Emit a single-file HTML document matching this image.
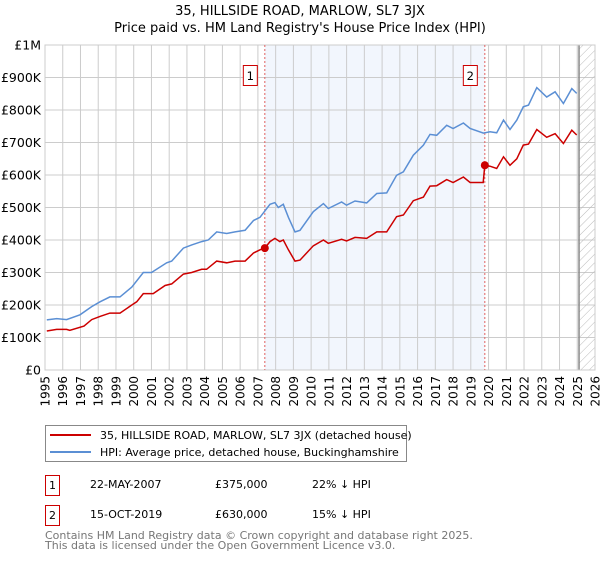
<!DOCTYPE html>
<html><head><meta charset="utf-8"><style>
body{margin:0;background:#fff;font-family:"DejaVu Sans","Liberation Sans",sans-serif;}
svg text{font-family:"DejaVu Sans","Liberation Sans",sans-serif;}
</style></head><body>
<svg id="chart" width="600" height="560" xmlns="http://www.w3.org/2000/svg">
<defs><pattern id="hatch" width="6" height="6" patternUnits="userSpaceOnUse" patternTransform="rotate(45)"><line x1="0" y1="0" x2="0" y2="6" stroke="#bbb" stroke-width="1"/></pattern></defs>
<text x="300" y="15" text-anchor="middle" font-size="13">35, HILLSIDE ROAD, MARLOW, SL7 3JX</text>
<text x="300" y="32" text-anchor="middle" font-size="13">Price paid vs. HM Land Registry's House Price Index (HPI)</text>
<g id="plot"></g>
<rect x="45.5" y="425.5" width="361" height="36" fill="#fff" stroke="#888"/>
<line x1="50" y1="435" x2="91" y2="435" stroke="#cc0000" stroke-width="2"/>
<text x="100" y="439" font-size="11">35, HILLSIDE ROAD, MARLOW, SL7 3JX (detached house)</text>
<line x1="50" y1="452" x2="91" y2="452" stroke="#5b8fd4" stroke-width="2"/>
<text x="100" y="456" font-size="11">HPI: Average price, detached house, Buckinghamshire</text>
<g font-size="11">
<rect x="45.5" y="475.5" width="14" height="20" fill="#fff" stroke="#cc0000"/><text x="52.5" y="489" text-anchor="middle">1</text>
<text x="90" y="488">22-MAY-2007</text><text x="215" y="488">£375,000</text><text x="312" y="488">22% ↓ HPI</text></g>
<g font-size="11">
<rect x="45.5" y="505.5" width="14" height="20" fill="#fff" stroke="#cc0000"/><text x="52.5" y="519" text-anchor="middle">2</text>
<text x="90" y="518">15-OCT-2019</text><text x="215" y="518">£630,000</text><text x="312" y="518">15% ↓ HPI</text></g>
<text x="45" y="539" font-size="11" fill="#777">Contains HM Land Registry data © Crown copyright and database right 2025.</text>
<text x="45" y="549" font-size="11" fill="#777">This data is licensed under the Open Government Licence v3.0.</text>
</svg>
<script>
const hpiYears=[1995.1,1995.66,1996.22,1996.97,1997.63,1998.1,1998.66,1999.23,1999.89,2000.54,2001.0,2001.86,2002.14,2002.8,2003.27,2003.83,2004.2,2004.68,2005.24,2005.71,2006.28,2006.75,2007.12,2007.68,2007.96,2008.15,2008.43,2008.72,2009.09,2009.37,2010.12,2010.69,2010.97,2011.72,2012.0,2012.47,2013.13,2013.7,2014.26,2014.82,2015.2,2015.76,2016.33,2016.7,2017.08,2017.64,2018.0,2018.58,2018.96,2019.71,2020.08,2020.46,2020.84,2021.21,2021.59,2021.96,2022.25,2022.72,2023.28,2023.75,2024.22,2024.69,2024.97];
const hpiValues=[154,158,155,170,195,210,225,225,255,300,300,330,335,375,385,395,400,425,420,425,430,460,470,510,515,500,510,470,425,430,487,512,497,517,507,520,514,543,545,599,610,661,692,725,722,753,743,760,743,729,733,730,769,740,769,810,815,869,840,856,820,866,851];
const redYears=[1995.1,1995.66,1996.22,1996.4,1997.2,1997.63,1998.1,1998.66,1999.23,1999.89,2000.17,2000.54,2001.1,2001.77,2002.14,2002.8,2003.27,2003.83,2004.11,2004.68,2005.24,2005.71,2006.28,2006.75,2007.12,2007.39,2007.68,2007.96,2008.24,2008.43,2008.72,2009.09,2009.37,2010.12,2010.69,2010.97,2011.72,2012.0,2012.47,2013.13,2013.7,2014.26,2014.82,2015.2,2015.76,2016.33,2016.7,2017.08,2017.64,2018.0,2018.58,2018.96,2019.7,2019.79,2020.08,2020.46,2020.84,2021.21,2021.59,2021.96,2022.25,2022.72,2023.28,2023.75,2024.22,2024.69,2024.97];
const redValues=[120,125,125,122,135,155,165,175,175,200,210,235,235,260,265,295,300,310,310,335,330,335,335,360,370,375,395,405,395,400,370,335,338,382,400,390,402,397,408,405,425,425,472,477,521,532,566,567,586,577,594,577,577,630,627,620,656,630,650,692,695,740,716,727,697,738,723];
const sales=[{n:"1",year:2007.39,value:375},{n:"2",year:2019.79,value:630}];
const yTicks=[0,100,200,300,400,500,600,700,800,900,1000];
const yTickLabels=["£0","£100K","£200K","£300K","£400K","£500K","£600K","£700K","£800K","£900K","£1M"];
const xTicks=[1995,1996,1997,1998,1999,2000,2001,2002,2003,2004,2005,2006,2007,2008,2009,2010,2011,2012,2013,2014,2015,2016,2017,2018,2019,2020,2021,2022,2023,2024,2025,2026];
const L=45,R=595,T=45,B=370,x0=1995,x1=2026,dataEnd=2025.1;
const X=v=>L+(v-x0)/(x1-x0)*(R-L);
const Y=v=>B-v/1000*(B-T);
const NS="http://www.w3.org/2000/svg";
const g=document.getElementById('plot');
function mk(t,a){const e=document.createElementNS(NS,t);for(const k in a)e.setAttribute(k,a[k]);g.appendChild(e);return e;}
let e=mk('rect',{x:X(sales[0].year),y:T,width:X(sales[1].year)-X(sales[0].year),height:B-T,fill:'#f0f4fd',opacity:'0.85'});


xTicks.forEach((t,i)=>{let l=mk('line',{x1:X(t),x2:X(t),y1:T,y2:B,stroke:'#ccc','stroke-width':1});


let tx=mk('text',{x:0,y:0,'font-size':12,'text-anchor':'end',transform:`translate(${X(t)+4.5},${B+6}) rotate(-90)`});tx.textContent=t;

});
yTicks.forEach((t,i)=>{let l=mk('line',{x1:L,x2:R,y1:Y(t),y2:Y(t),stroke:'#ccc','stroke-width':1});


let tx=mk('text',{x:L-4,y:Y(t)+4.5,'font-size':12.5,'text-anchor':'end'});tx.textContent=yTickLabels[i];

});
e=mk('rect',{x:X(dataEnd),y:T,width:R-X(dataEnd),height:B-T,fill:'url(#hatch)'});


e=mk('line',{x1:X(dataEnd),x2:X(dataEnd),y1:T,y2:B,stroke:'#888','stroke-width':1.5});


e=mk('rect',{x:L,y:T,width:R-L,height:B-T,fill:'none',stroke:'#ccc'});


sales.forEach(s=>{let l=mk('line',{x1:X(s.year),x2:X(s.year),y1:T,y2:B,stroke:'#e06060','stroke-dasharray':'2,2','stroke-width':1});


let r=mk('rect',{x:X(s.year)-21.5,y:65.5,width:14,height:20,fill:'#fff',stroke:'#cc0000'});


let t=mk('text',{x:X(s.year)-14.5,y:80,'font-size':11.5,'text-anchor':'middle'});t.textContent=s.n;

});
function pts(xs,vs){return xs.map((x,i)=>X(x).toFixed(1)+','+Y(vs[i]).toFixed(1)).join(' ');}
e=mk('polyline',{points:pts(hpiYears,hpiValues),fill:'none',stroke:'#5b8fd4','stroke-width':1.5});


e=mk('polyline',{points:pts(redYears,redValues),fill:'none',stroke:'#cc0000','stroke-width':1.5});


sales.forEach(s=>{let c=mk('circle',{cx:X(s.year),cy:Y(s.value),r:4,fill:'#cc0000'});

});
</script>
</body></html>
